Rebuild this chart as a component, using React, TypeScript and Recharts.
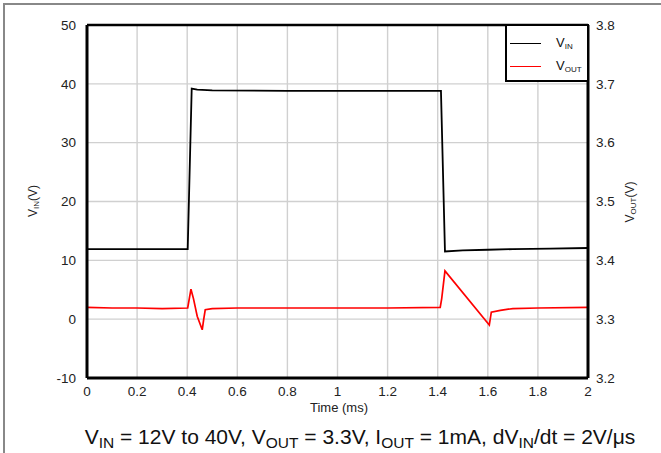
import React from 'react';
import { ComposedChart, Line, XAxis, YAxis, CartesianGrid, ReferenceLine, Legend } from 'recharts';

const timeTicks = [0, 0.2, 0.4, 0.6, 0.8, 1, 1.2, 1.4, 1.6, 1.8, 2];
const vinTicks = [-10, 0, 10, 20, 30, 40, 50];
const voutTicks = [3.2, 3.3, 3.4, 3.5, 3.6, 3.7, 3.8];

const vinTime = [0, 0.1, 0.2, 0.3, 0.402, 0.418, 0.44, 0.5, 0.8, 1.1, 1.413, 1.429, 1.5, 1.6, 1.7, 1.85, 2.0];
const vinValues = [11.9, 11.9, 11.9, 11.9, 11.9, 39.2, 39.0, 38.9, 38.8, 38.8, 38.8, 11.5, 11.7, 11.8, 11.9, 12.0, 12.1];

const voutTime = [0, 0.1, 0.2, 0.3, 0.402, 0.415, 0.425, 0.44, 0.46, 0.466, 0.472, 0.5, 0.6, 0.8, 1.0, 1.2, 1.41, 1.416, 1.429, 1.606, 1.614, 1.65, 1.7, 1.8, 2.0];
const voutValues = [3.32, 3.319, 3.319, 3.318, 3.319, 3.351, 3.335, 3.305, 3.282, 3.3, 3.316, 3.318, 3.319, 3.319, 3.319, 3.319, 3.32, 3.335, 3.382, 3.29, 3.312, 3.315, 3.318, 3.319, 3.32];

const vinData = vinTime.map((t, i) => ({ t, vin: vinValues[i] }));
const voutData = voutTime.map((t, i) => ({ t, vout: voutValues[i] }));

const FONT = "Arial, 'Liberation Sans', sans-serif";

const renderLegend = () => (
  <div
    style={{
      position: 'relative',
      width: 84,
      height: 58,
      boxSizing: 'border-box',
      border: '2px solid #000',
      background: '#fff',
      fontFamily: FONT,
      color: '#111',
    }}
  >
    <div style={{ position: 'absolute', left: 3, top: 17, width: 31, height: 0, borderTop: '1.5px solid #000' }} />
    <div style={{ position: 'absolute', left: 49, top: 9, fontSize: 13, lineHeight: '16px' }}>
      V<span style={{ fontSize: 8, position: 'relative', top: 2 }}>IN</span>
    </div>
    <div style={{ position: 'absolute', left: 3, top: 40, width: 31, height: 0, borderTop: '1.5px solid #ff0000' }} />
    <div style={{ position: 'absolute', left: 49, top: 32, fontSize: 13, lineHeight: '16px' }}>
      V<span style={{ fontSize: 8, position: 'relative', top: 2 }}>OUT</span>
    </div>
  </div>
);

const fmtX = (v: number) => String(Number(v.toFixed(1)));
const fmtR = (v: number) => v.toFixed(1);

export default function App() {
  return (
    <div style={{ position: 'fixed', left: 0, top: 0, width: 661, height: 453, background: '#fff' }}>
      <ComposedChart width={661} height={453} margin={{ top: 25, right: 0, bottom: 0, left: 0 }}>
        <CartesianGrid stroke="#d0d0d0" strokeWidth={1.4} vertical horizontal yAxisId="left" />
        <XAxis
          dataKey="t"
          type="number"
          domain={[0, 2]}
          ticks={timeTicks}
          tickFormatter={fmtX}
          height={75}
          tickLine={false}
          axisLine={{ stroke: '#000', strokeWidth: 3 }}
          tick={{ fontSize: 13.5, fill: '#222', fontFamily: FONT }}
          tickMargin={2}
          interval={0}
        />
        <YAxis
          yAxisId="left"
          type="number"
          domain={[-10, 50]}
          ticks={vinTicks}
          width={87}
          tickLine={false}
          axisLine={{ stroke: '#000', strokeWidth: 3 }}
          tick={{ fontSize: 13.5, fill: '#222', fontFamily: FONT }}
          tickMargin={5}
          interval={0}
        />
        <YAxis
          yAxisId="right"
          orientation="right"
          type="number"
          domain={[3.2, 3.8]}
          ticks={voutTicks}
          tickFormatter={fmtR}
          width={73}
          tickLine={false}
          axisLine={{ stroke: '#000', strokeWidth: 3 }}
          tick={{ fontSize: 13.5, fill: '#222', fontFamily: FONT }}
          tickMargin={2}
          interval={0}
        />
        <ReferenceLine yAxisId="left" y={50} stroke="#000" strokeWidth={2.5} />
        <Line
          yAxisId="left"
          data={vinData}
          dataKey="vin"
          type="linear"
          stroke="#000"
          strokeWidth={1.8}
          dot={false}
          isAnimationActive={false}
        />
        <Line
          yAxisId="right"
          data={voutData}
          dataKey="vout"
          type="linear"
          stroke="#ff0000"
          strokeWidth={1.7}
          dot={false}
          isAnimationActive={false}
        />
        <Legend
          layout="vertical"
          align="center"
          verticalAlign="middle"
          content={renderLegend}
          wrapperStyle={{ position: 'absolute', left: 505, top: 24, width: 84, height: 58 }}
        />
      </ComposedChart>
      <svg
        width={661}
        height={453}
        style={{ position: 'absolute', left: 0, top: 0, pointerEvents: 'none' }}
        fontFamily={FONT}
      >
        <path d="M4,453 L4,4 L661,4" fill="none" stroke="#888" strokeWidth={2} />
        <text x={339} y={412} textAnchor="middle" fontSize={13} fill="#222">Time (ms)</text>
        <text transform="translate(37,201) rotate(-90)" textAnchor="middle" fontSize={12} fill="#222">
          V<tspan fontSize={8} dy={2}>IN</tspan><tspan dy={-2}>(V)</tspan>
        </text>
        <text transform="translate(634,202) rotate(-90)" textAnchor="middle" fontSize={12} fill="#222">
          V<tspan fontSize={8} dy={2}>OUT</tspan><tspan dy={-2}>(V)</tspan>
        </text>
        <text x={360} y={444} textAnchor="middle" fontSize={21} fill="#111">
          V<tspan fontSize={15.5} dy={4}>IN</tspan>
          <tspan dy={-4}> = 12V to 40V, V</tspan>
          <tspan fontSize={15.5} dy={4}>OUT</tspan>
          <tspan dy={-4}> = 3.3V, I</tspan>
          <tspan fontSize={15.5} dy={4}>OUT</tspan>
          <tspan dy={-4}> = 1mA, dV</tspan>
          <tspan fontSize={15.5} dy={4}>IN</tspan>
          <tspan dy={-4}>/dt = 2V/μs</tspan>
        </text>
      </svg>
    </div>
  );
}
